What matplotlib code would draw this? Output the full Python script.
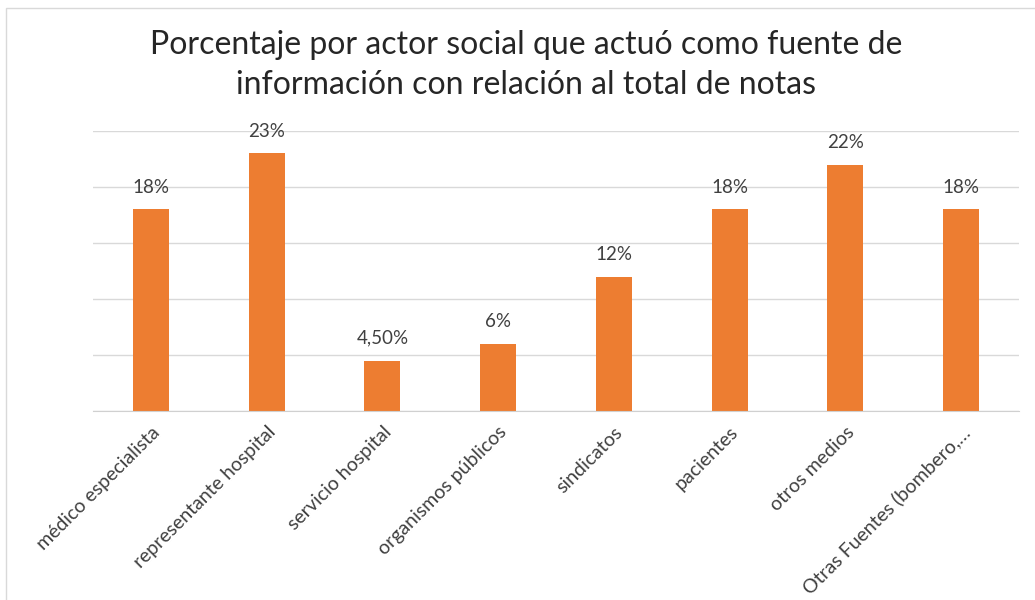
import matplotlib
matplotlib.use("Agg")
import matplotlib.pyplot as plt
from matplotlib.patches import Rectangle

categories = ["médico especialista", "representante hospital", "servicio hospital",
              "organismos públicos", "sindicatos", "pacientes", "otros medios",
              "Otras Fuentes (bombero,…"]
values = [18, 23, 4.5, 6, 12, 18, 22, 18]
value_labels = ["18%", "23%", "4,50%", "6%", "12%", "18%", "22%", "18%"]
title = "Porcentaje por actor social que actuó como fuente de\ninformación con relación al total de notas"

plt.rcParams['font.family'] = ['Lato', 'DejaVu Sans']

fig = plt.figure(figsize=(10.35, 6), dpi=100)
fig.patch.set_facecolor("white")
# chart frame
fig.add_artist(Rectangle((6/1035, -0.01), 1.02, (600-8)/600 + 0.01, transform=fig.transFigure,
                         fill=False, edgecolor="#d9d9d9", linewidth=1.0))

ax = fig.add_axes([93/1035, (600-411)/600, (1019-93)/1035, (411-131)/600])
x = range(len(categories))
bars = ax.bar(x, values, width=0.31, color="#ED7D31", zorder=3)
ax.set_ylim(0, 25)
ax.set_xlim(-0.5, len(categories) - 0.5)
ax.set_yticks([0, 5, 10, 15, 20, 25])
ax.yaxis.grid(True, color="#d9d9d9", linewidth=1.0, zorder=0)
ax.tick_params(axis='y', left=False, labelleft=False)
ax.tick_params(axis='x', length=0, pad=9)
for s in ["top", "right", "left"]:
    ax.spines[s].set_visible(False)
ax.spines["bottom"].set_color("#d0d0d0")
ax.spines["bottom"].set_zorder(4)
ax.set_xticks(list(x))
ax.set_xticklabels(categories, rotation=45, ha="right", rotation_mode="anchor",
                   fontsize=14, color="#404040")
for xi, v, lab in zip(x, values, value_labels):
    ax.annotate(lab, (xi, v), xytext=(0, 10), textcoords="offset points",
                ha="center", va="bottom", fontsize=13.5, color="#404040")

fig.text(526/1035, 1 - 65/600, title, ha="center", va="center", fontsize=23,
         color="#262626", linespacing=1.45)

fig.savefig("out.png", dpi=100)
